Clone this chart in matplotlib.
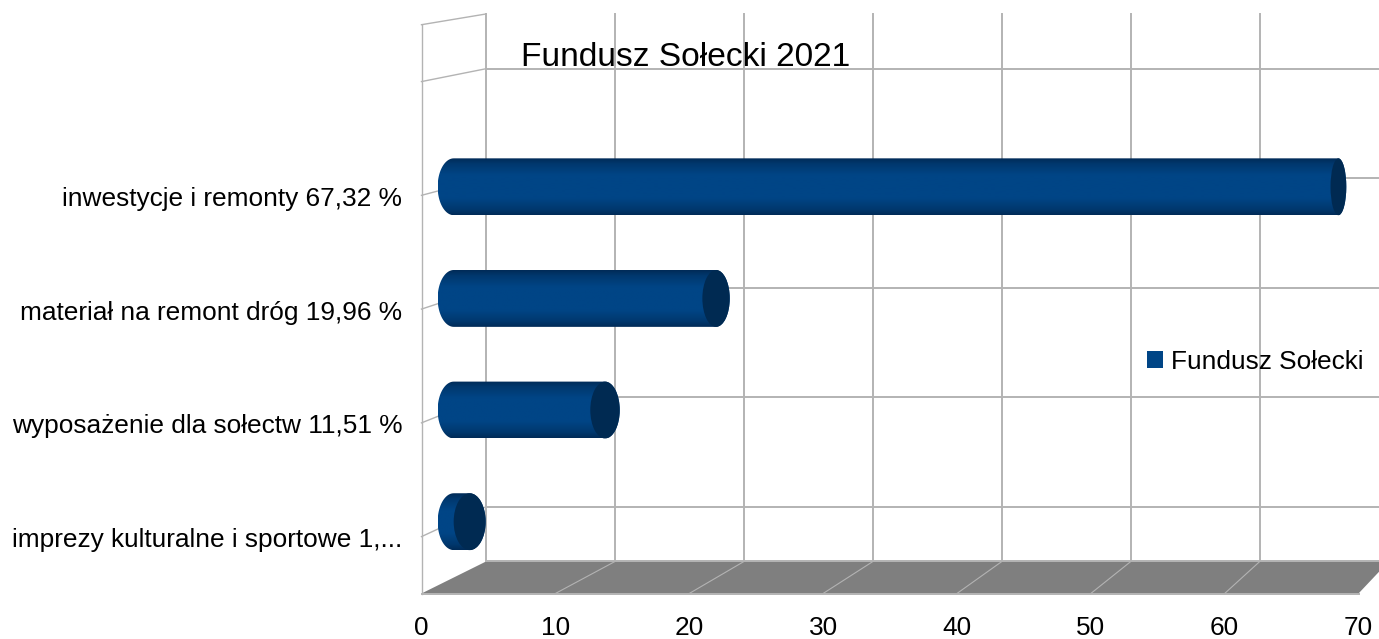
import numpy as np
import matplotlib
matplotlib.use('Agg')
import matplotlib.pyplot as plt
from matplotlib.colors import LinearSegmentedColormap
from matplotlib.patches import Ellipse, PathPatch, Polygon, Patch
from matplotlib.path import Path
from matplotlib.transforms import ScaledTranslation

plt.rcParams['font.family'] = ['Liberation Sans', 'DejaVu Sans']

# Data
categories = ['imprezy kulturalne i sportowe 1,...', 'wyposażenie dla sołectw 11,51 %',
              'materiał na remont dróg 19,96 %', 'inwestycje i remonty 67,32 %']
values = [1.21, 11.51, 19.96, 67.32]
category_pos = [0.5, 1.5, 2.5, 3.5]
x_ticks = [0, 10, 20, 30, 40, 50, 60, 70]
grid_y = [0.5, 1.5, 2.5, 3.5, 4.5]
title = 'Fundusz Sołecki 2021'
series_name = 'Fundusz Sołecki'

W, H = 1379, 639
GRID = '#b3b3b3'
BAR = '#004586'
CAP = '#002a52'
BAR_H = 0.25


def depth_x(v):
    return 4.82 - 0.0366 * v


def project(v, k, d):
    # value/category position at depth d (0 front, 1 back wall) -> axes data
    return v + d * depth_x(v), k + d * (0.2813 - 0.0374 * k)


fig = plt.figure(figsize=(W / 100, H / 100), dpi=100)
ax = fig.add_axes([421.5 / W, 1 - 593.5 / H, 937 / W, 568.8 / H])
ax.set_xlim(0, 70)
ax.set_ylim(0, 5)
for s in ax.spines.values():
    s.set_visible(False)

# floor
floor = [project(0, 0, 0), project(70, 0, 0), project(70, 0, 1), project(0, 0, 1)]
ax.add_patch(Polygon(floor, closed=True, fc='#7f7f7f', ec='none', zorder=1, clip_on=False))

# walls and grid
for v in x_ticks:
    x0, y0 = project(v, 0, 0)
    x1, y1 = project(v, 0, 1)
    if 0 < v < 70:
        ax.plot([x0, x1], [y0, y1], color=GRID, lw=0.8, zorder=2, clip_on=False)
    x2, y2 = project(v, 5, 1)
    ax.plot([x1, x2], [y1, y2], color=GRID, lw=1.4, zorder=2, clip_on=False)
for k in [0] + grid_y:
    x0, y0 = project(0, k, 1)
    x1, y1 = project(70, k, 1)
    ax.plot([x0, x1], [y0, y1], color=GRID, lw=1.4, zorder=2, clip_on=False)
for k in grid_y + [5]:
    x0, y0 = project(0, k, 0)
    x1, y1 = project(0, k, 1)
    ax.plot([x0, x1], [y0, y1], color=GRID, lw=1.0, zorder=2, clip_on=False)
ax.plot([0, 0], [0, 5], color=GRID, lw=1.0, zorder=2, clip_on=False)
ax.plot([0, 70], [0, 0], color=GRID, lw=1.4, zorder=2, clip_on=False)

# cylinders
shade = LinearSegmentedColormap.from_list(
    'cyl', [(0, '#002b57'), (0.1, '#00386e'), (0.3, BAR), (0.7, BAR), (0.9, '#00386e'), (1, '#002b57')])
grad = np.linspace(0, 1, 128).reshape(-1, 1)
for k, v in zip(category_pos, values):
    x_left, y_mid = project(0, k, 0.5)
    x_right, _ = project(v, k, 0.5)
    hw_left = depth_x(0) / 4
    hw_right = depth_x(v) / 4
    t = np.linspace(np.pi / 2, 3 * np.pi / 2, 40)
    verts = list(zip(x_left + hw_left * np.cos(t), y_mid + BAR_H * np.sin(t)))
    verts += list(zip(x_right - hw_right * np.cos(t), y_mid - BAR_H * np.sin(t)))
    verts.append(verts[0])
    body = PathPatch(Path(verts), fc='none', ec='none', transform=ax.transData)
    ax.add_patch(body)
    im = ax.imshow(grad, cmap=shade, aspect='auto', zorder=3, interpolation='bilinear',
                   extent=[x_left - hw_left, x_right + hw_right, y_mid - BAR_H, y_mid + BAR_H])
    im.set_clip_path(body)
    ax.add_patch(Ellipse((x_right, y_mid), 2 * hw_right, 2 * BAR_H, fc=CAP, ec='none', zorder=4))
ax.set_xlim(0, 70)
ax.set_ylim(0, 5)

# labels
ax.set_xticks(x_ticks)
ax.set_yticks(category_pos)
ax.set_yticklabels(categories)
ax.tick_params(axis='x', length=0, pad=16, labelsize=18.9, labelcolor='#000000')
ax.tick_params(axis='y', length=0, pad=14, labelsize=18.9, labelcolor='#000000')
down = ScaledTranslation(0, -0.7 / 72, fig.dpi_scale_trans)
for lab in ax.get_yticklabels():
    lab.set_transform(lab.get_transform() + down)

fig.text(521 / W, 1 - 58 / H, title, fontsize=24.1, color='#000000', ha='left', va='center')

ax.legend(handles=[Patch(fc=BAR, ec='none', label=series_name)], frameon=False, fontsize=18.9,
          loc='center left', bbox_to_anchor=(1147 / W, 1 - 362 / H), bbox_transform=fig.transFigure,
          handlelength=0.62, handleheight=0.62, handletextpad=0.3, borderpad=0, borderaxespad=0)

plt.savefig('out.png', dpi=100)
